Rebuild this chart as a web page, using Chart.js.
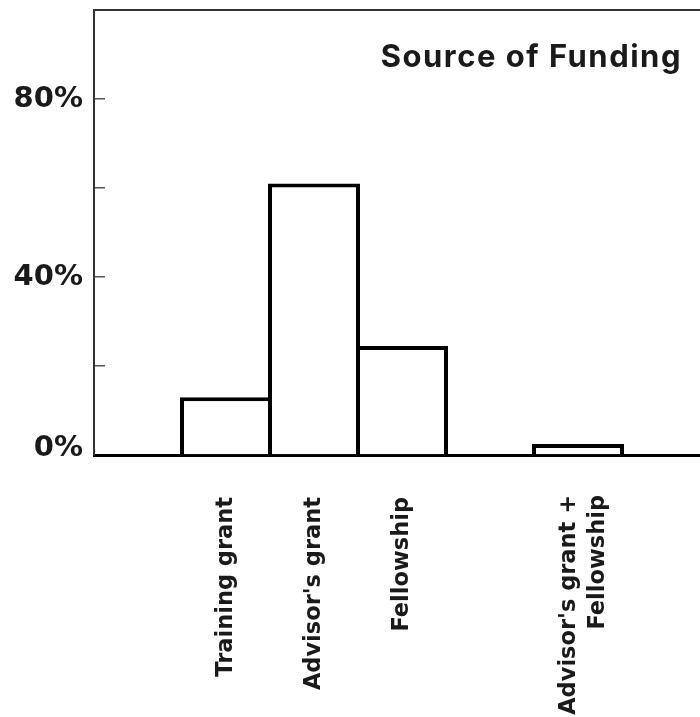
<!DOCTYPE html>
<html>
<head>
<meta charset="utf-8">
<script src="https://cdn.jsdelivr.net/npm/chart.js@4/dist/chart.umd.min.js"></script>
<style>
  html, body { margin: 0; padding: 0; background: #fff; overflow: hidden; }
  #wrap { width: 720px; height: 717px; }
</style>
</head>
<body>
<div id="wrap"><canvas id="c" width="720" height="717"></canvas></div>
<script>
const categories = ["", "Training grant", "Advisor's grant", "Fellowship", "", ["Advisor's grant +", "Fellowship"], ""];
const shares = [null, 13, 61, 24.5, null, 2.5, null];
const yTicksShown = [0, 40, 80];
const chartTitle = "Source of Funding";

const titlePlugin = {
  id: 'insideTitle',
  afterDraw(chart) {
    const ctx = chart.ctx, a = chart.chartArea;
    ctx.save();
    ctx.font = "bold 31px Inter, 'Noto Sans', sans-serif";
    if ('letterSpacing' in ctx) ctx.letterSpacing = '1.5px';
    ctx.fillStyle = '#1a1a1a';
    ctx.textAlign = 'right';
    ctx.textBaseline = 'alphabetic';
    ctx.fillText(chartTitle, a.right - 28, 67);
    ctx.restore();
  }
};

function noPad(s) { s.paddingTop = 0; s.paddingBottom = 0; s.paddingLeft = 0; s.paddingRight = 0; }
const xFont = { family: "'DejaVu Sans', sans-serif", weight: 'bold', size: 22.5, lineHeight: 1.3 };
const isMulti = (i) => Array.isArray(categories[i]);

new Chart(document.getElementById('c'), {
  type: 'bar',
  data: {
    labels: categories,
    datasets: [{
      data: shares,
      backgroundColor: '#ffffff',
      borderColor: '#000000',
      borderWidth: 4,
      borderSkipped: 'start',
      barPercentage: 92 / 88,
      categoryPercentage: 1
    }]
  },
  options: {
    responsive: false,
    animation: false,
    layout: { padding: { left: 0, right: 10, top: 0, bottom: 0 } },
    plugins: { legend: { display: false }, tooltip: { enabled: false }, title: { display: false } },
    scales: {
      x: {
        position: 'bottom',
        z: 1,
        grid: { display: false, drawTicks: false },
        border: { display: true, color: '#000', width: 3 },
        ticks: {
          autoSkip: false,
          maxRotation: 90,
          minRotation: 90,
          padding: 42,
          color: '#1a1a1a',
          font: xFont,
          callback: (v, i) => isMulti(i) ? '' : categories[i]
        },
        afterFit(s) { s.height = 262; noPad(s); }
      },
      xMulti: {
        type: 'category',
        labels: categories,
        position: { y: 0 },
        grid: { display: false, drawTicks: false },
        border: { display: false },
        ticks: {
          autoSkip: false,
          maxRotation: 90,
          minRotation: 90,
          padding: 40,
          labelOffset: -9,
          color: '#1a1a1a',
          font: xFont,
          callback: (v, i) => isMulti(i) ? categories[i] : ''
        },
        afterFit(s) { noPad(s); }
      },
      xTop: {
        position: 'top',
        type: 'category',
        labels: categories,
        grid: { display: false, drawTicks: false },
        border: { display: true, color: '#333', width: 2 },
        ticks: { display: false },
        afterFit(s) { s.height = 10; noPad(s); }
      },
      y: {
        min: 0,
        max: 100,
        grid: { drawOnChartArea: false, drawTicks: true, tickLength: -11, color: '#555', lineWidth: 1.5 },
        border: { display: true, color: '#333', width: 2 },
        ticks: {
          stepSize: 20,
          padding: 22,
          color: '#1a1a1a',
          font: (ctx) => {
            const isZero = ctx.tick && ctx.tick.value === 0;
            return { family: "'DejaVu Sans', sans-serif", weight: 'bold', size: 29, lineHeight: isZero ? '14px' : 1.2 };
          },
          callback: (v) => {
            if (!yTicksShown.includes(v)) return '';
            return v === 0 ? [v + '%', ''] : v + '%';
          }
        },
        afterFit(s) { s.width = 94; noPad(s); }
      }
    }
  },
  plugins: [titlePlugin]
});
</script>
</body>
</html>
